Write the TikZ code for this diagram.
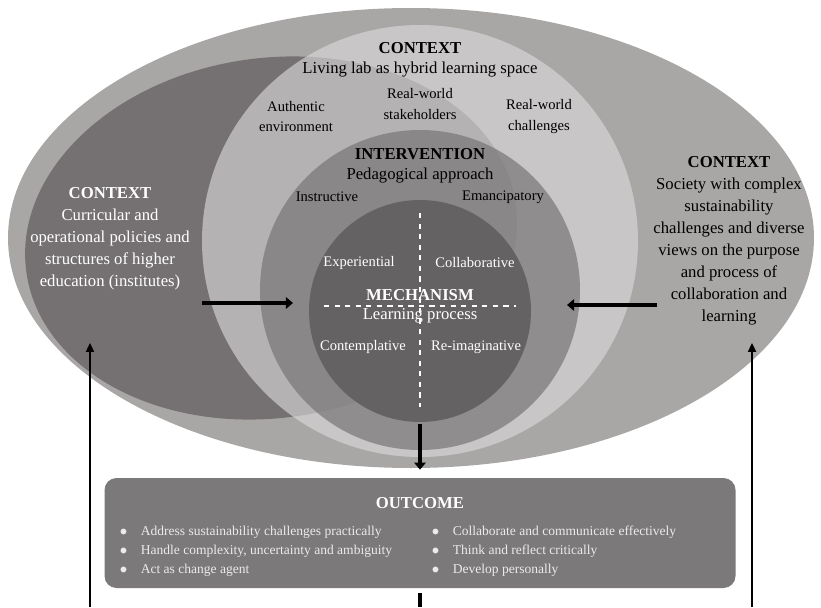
\documentclass[tikz,border=0pt]{standalone}
\usepackage{fontspec}
\setmainfont{Liberation Serif}
\usetikzlibrary{arrows.meta}

\definecolor{outerGray}{RGB}{169,166,166}
\definecolor{policyGray}{RGB}{117,113,114}
\definecolor{labLight}{RGB}{220,218,218}
\definecolor{interGray}{RGB}{119,117,117}
\definecolor{mechGray}{RGB}{100,98,98}
\definecolor{outGray}{RGB}{123,121,121}

\newcommand{\itembullet}{$\bullet$}

\tikzset{
	ctxtext/.style={align=center, font=\fontsize{9.5}{12.5}\selectfont},
	headtext/.style={font=\fontsize{9.5}{12.5}\selectfont\bfseries},
	labeltext/.style={align=center, font=\fontsize{8.3}{11.4}\selectfont},
	itemtext/.style={inner sep=0pt, font=\fontsize{7.7}{10.8}\selectfont, text=white!92!black},
	bigarrow/.style={line width=2.6pt, -{Triangle[length=4pt, width=6.5pt]}},
	thinarrow/.style={line width=1.1pt, -{Triangle[length=5pt, width=4.5pt]}},
	dashline/.style={white, dashed, line width=0.6pt}
}

\begin{document}
\begin{tikzpicture}
		
		\useasboundingbox (0,0) rectangle (16.42,12.14);
		
		\fill[outerGray] (8.22,7.38) ellipse [x radius=8.06, y radius=4.6];
		\fill[policyGray, rotate around={8:(5.42,7.38)}] (5.42,7.38) ellipse [x radius=4.94, y radius=3.6];
		\fill[labLight, fill opacity=0.62] (8.4,7.32) ellipse [x radius=4.36, y radius=4.32];
		\fill[interGray, fill opacity=0.7] (8.4,6.34) circle [radius=3.2];
		\node (mech) [circle, fill=mechGray, minimum size=4.44cm, inner sep=0pt] at (8.4,5.92) {};
		
		\node (labHead) [headtext] at (8.4,11.18) {CONTEXT};
		\node (labName) [ctxtext] at (8.4,10.74) {Living lab as hybrid learning space};
		\node (authentic) [labeltext] at (5.92,9.81) {Authentic\\environment};
		\node (stakeholders) [labeltext] at (8.4,10.06) {Real-world\\stakeholders};
		\node (challenges) [labeltext] at (10.78,9.81) {Real-world\\challenges};
		
		\node (interHead) [headtext] at (8.4,9.06) {INTERVENTION};
		\node (interName) [ctxtext] at (8.4,8.62) {Pedagogical approach};
		\node (instructive) [labeltext] at (6.54,8.2) {Instructive};
		\node (emancipatory) [labeltext] at (10.06,8.2) {Emancipatory};
		
		\node (experiential) [labeltext, text=white] at (7.18,6.88) {Experiential};
		\node (collaborative) [labeltext, text=white] at (9.5,6.88) {Collaborative};
		\node (mechHead) [headtext, text=white] at (8.4,6.24) {MECHANISM};
		\node (mechName) [ctxtext, text=white] at (8.4,5.82) {Learning process};
		\node (contemplative) [labeltext, text=white] at (7.26,5.2) {Contemplative};
		\node (reimaginative) [labeltext, text=white] at (9.52,5.2) {Re-imaginative};
		\draw[dashline] (8.4,7.88) -- (8.4,4.0);
		\draw[dashline] (6.48,6.02) -- (10.32,6.02);
		
		\node (policy) [ctxtext, text=white] at (2.2,7.36) {\textbf{CONTEXT}\\Curricular and\\operational policies and\\structures of higher\\education (institutes)};
		\node (society) [ctxtext] at (14.58,7.33) {\textbf{CONTEXT}\\Society with complex\\sustainability\\challenges and diverse\\views on the purpose\\and process of\\collaboration and\\learning};
		
		\node (outcome) [rounded corners=0.24cm, fill=outGray, minimum width=12.62cm, minimum height=2.2cm, inner sep=0pt] at (8.4,1.48) {};
		\node (outHead) [headtext, text=white] at (8.4,2.08) {OUTCOME};
		\node (itemsL) [itemtext, anchor=west] at (2.39,1.12) {\begin{tabular}{@{}l@{\hspace{0.27cm}}l@{}}
				\itembullet & Address sustainability challenges practically\\
				\itembullet & Handle complexity, uncertainty and ambiguity\\
				\itembullet & Act as change agent
			\end{tabular}};
		\node (itemsR) [itemtext, anchor=west] at (8.63,1.12) {\begin{tabular}{@{}l@{\hspace{0.27cm}}l@{}}
				\itembullet & Collaborate and communicate effectively\\
				\itembullet & Think and reflect critically\\
				\itembullet & Develop personally
			\end{tabular}};
		
		\coordinate (polTail) at (4.04,6.08);
		\coordinate (polTip) at (5.86,6.08);
		\coordinate (socTail) at (13.14,6.04);
		\coordinate (socTip) at (11.34,6.04);
		\coordinate (polFoot) at (1.8,0);
		\coordinate (polHead) at (1.8,5.28);
		\coordinate (socFoot) at (15.04,0);
		\coordinate (socHead) at (15.04,5.28);
		\coordinate (outFoot) at (8.4,0);
		
		\draw[bigarrow] (polTail) -- (polTip);
		\draw[bigarrow] (socTail) -- (socTip);
		\draw[bigarrow, shorten <=0.04cm, shorten >=0.16cm] (mech) -- (outcome);
		\draw[line width=2.3pt, shorten <=0.1cm] (outcome) -- (outFoot);
		\draw[thinarrow] (polFoot) -- (polHead);
		\draw[thinarrow] (socFoot) -- (socHead);
		
\end{tikzpicture}
\end{document}
